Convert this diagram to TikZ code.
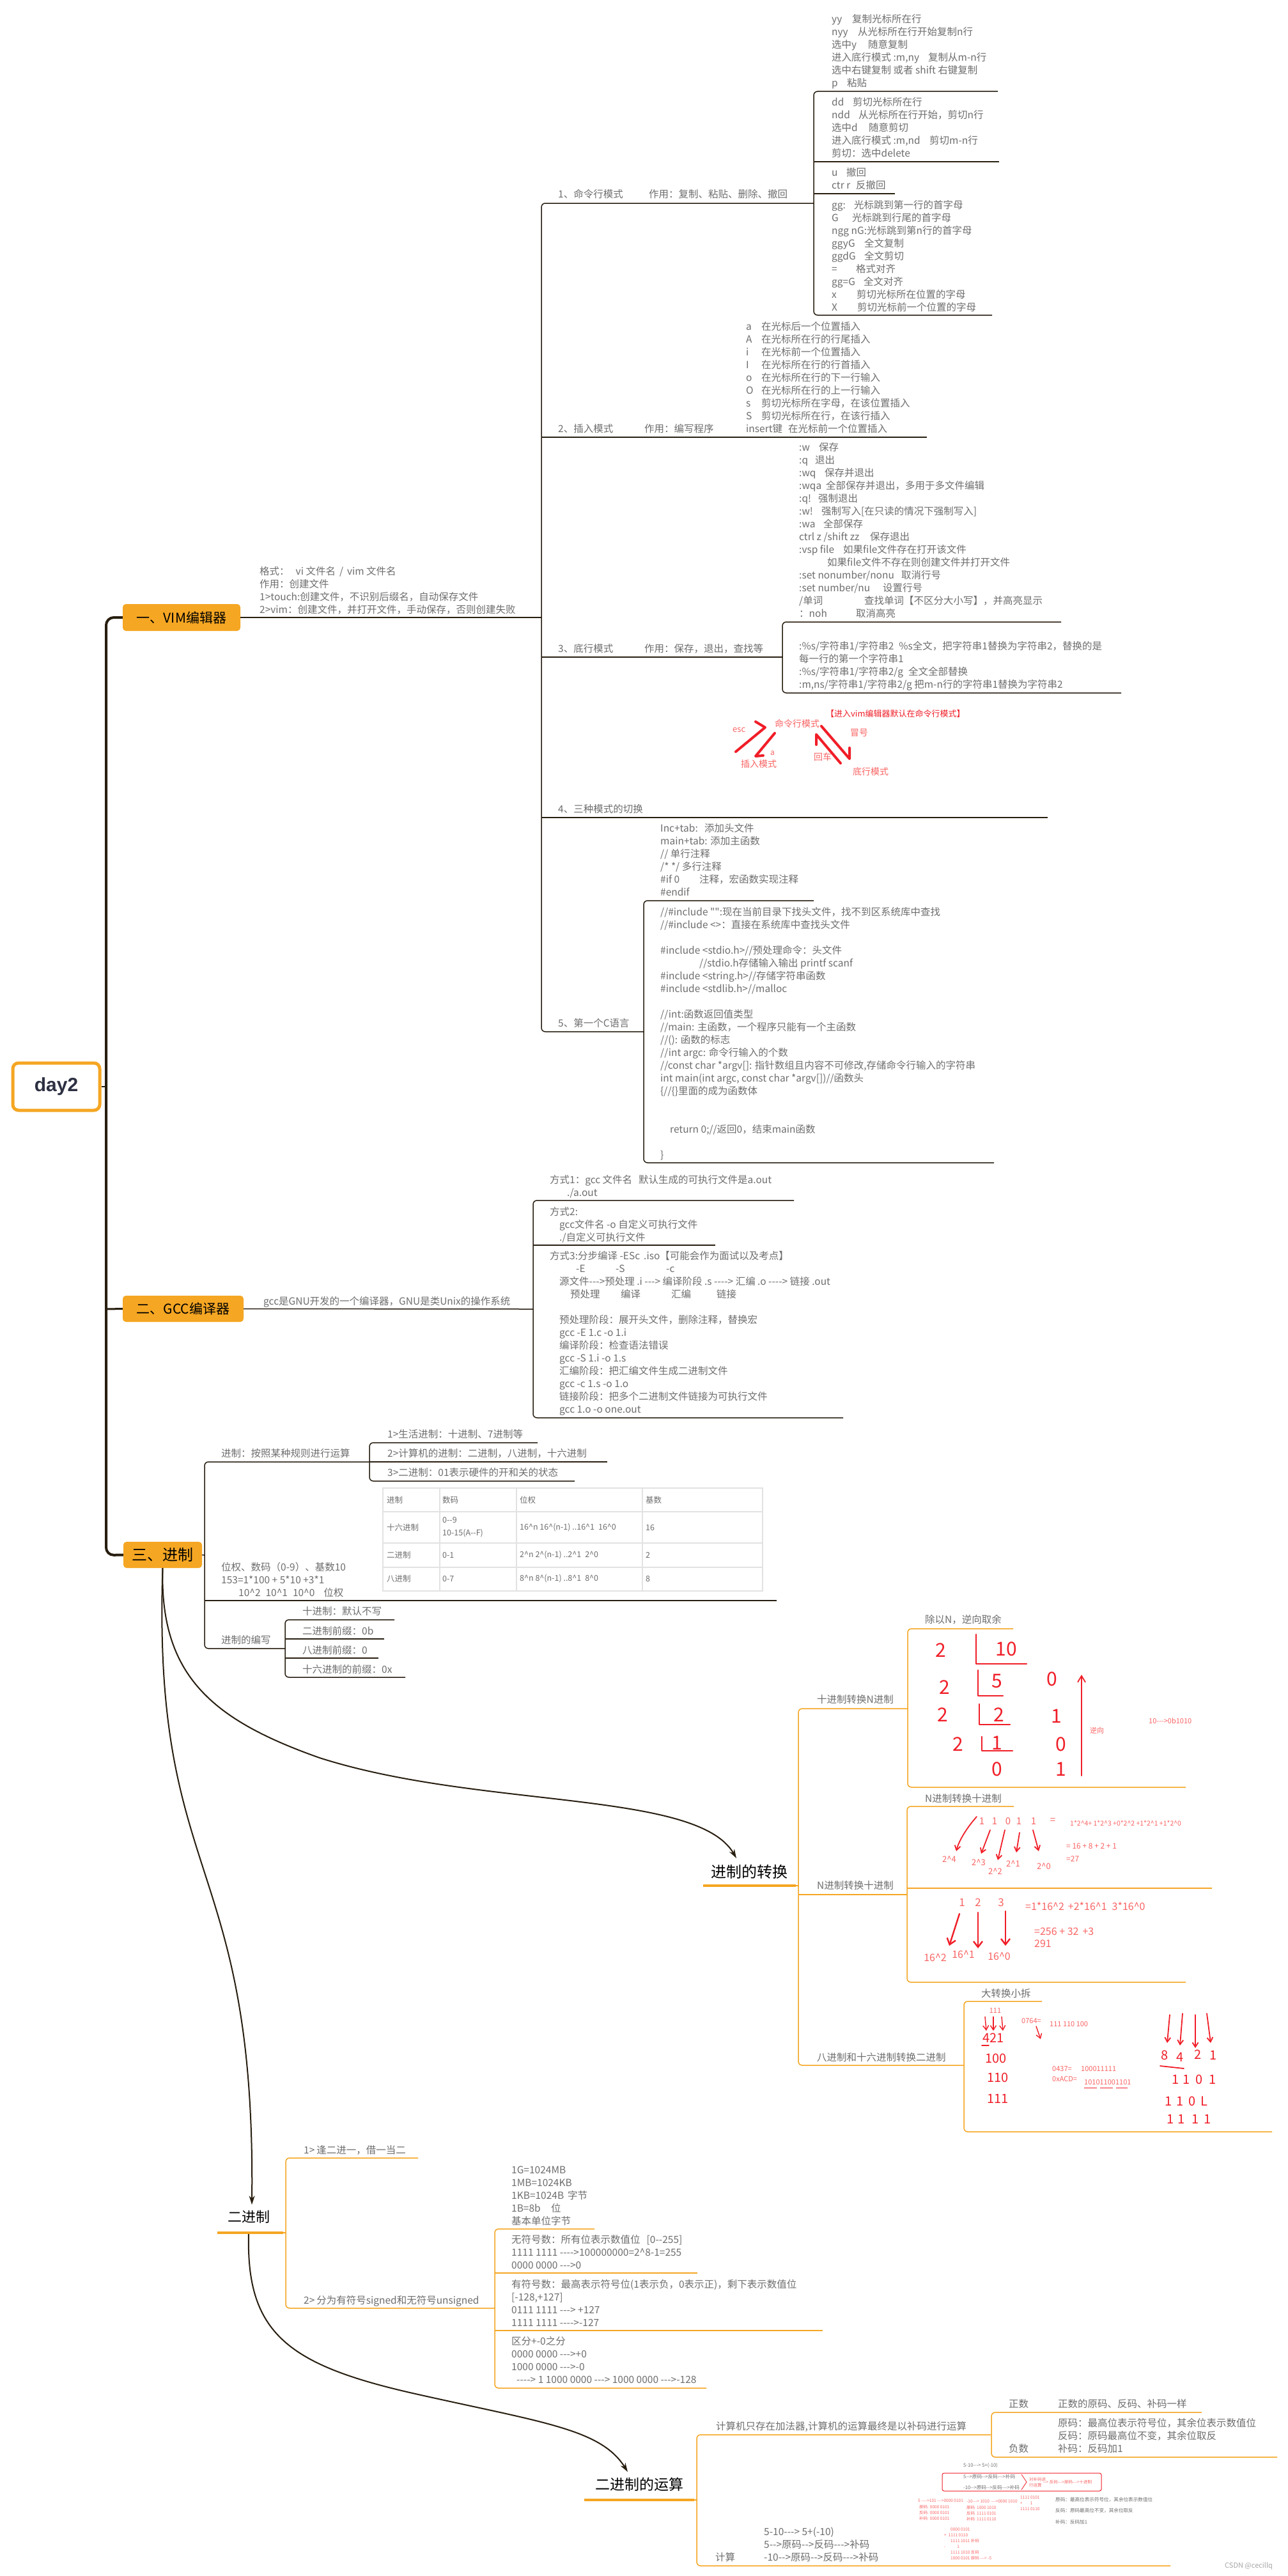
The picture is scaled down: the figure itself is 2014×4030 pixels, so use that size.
\documentclass[tikz,border=0pt]{standalone}
\usepackage{fontspec}
\newfontfamily\cjk{Noto Sans CJK SC}
\newfontfamily\lsans{Liberation Sans}
\usetikzlibrary{arrows.meta}
\definecolor{orng}{RGB}{245,166,35}
\definecolor{ln}{RGB}{40,30,16}
\definecolor{tx}{RGB}{110,110,110}
\definecolor{rd}{RGB}{240,30,40}
\definecolor{lrd}{RGB}{250,100,100}
\definecolor{grd}{RGB}{226,226,226}
\definecolor{navy}{RGB}{45,48,66}
\newcommand\crt{\textasciicircum}
\newcommand\cbx[2]{\makebox[#1pt][l]{#2}}
\begin{document}
\begin{tikzpicture}[x=1pt,y=-1pt,
 txt/.style={font=\cjk\fontsize{15.5}{20}\selectfont, text=tx, align=left, inner sep=0pt, anchor=base west},
 mainbox/.style={fill=orng, rounded corners=5pt, text=black, inner sep=0pt},
 topic/.style={font=\cjk\fontsize{23}{26}\selectfont, text=black, inner sep=0pt},
 brl/.style={draw=ln, line width=1.5pt, rounded corners=6pt},
 obl/.style={draw=orng, line width=1.5pt, rounded corners=6pt},
 oul/.style={draw=orng, line width=4pt},
 rel/.style={draw=ln, line width=2pt, -{Stealth[length=14pt,width=9pt]}},
 hd/.style={draw=rd, line width=2.6pt, line cap=round, line join=round},
 hdm/.style={draw=rd, line width=4pt, line cap=round, line join=round},
 hda/.style={draw=rd, line width=1.8pt, line cap=round, -{Straight Barb[length=7pt,width=9pt]}},
 hdt/.style={text=rd, font=\cjk\fontsize{30}{32}\selectfont, inner sep=0pt},
 rt/.style={text=lrd, font=\cjk\fontsize{14}{16}\selectfont, inner sep=0pt, anchor=west},
 rs/.style={text=lrd, font=\cjk\fontsize{15}{17}\selectfont, inner sep=0pt},
 tn/.style={text=tx, font=\cjk\fontsize{7.6}{10.5}\selectfont, inner sep=0pt, anchor=west, align=left},
 tnr/.style={text=lrd, font=\cjk\fontsize{6.5}{9}\selectfont, inner sep=0pt, anchor=west, align=left},
 tbl/.style={text=tx, font=\cjk\fontsize{12.5}{20}\selectfont, inner sep=0pt, anchor=west, align=left},
]
\fill[white] (0,0) rectangle (2014,4030);
\useasboundingbox (0,0) rectangle (2014,4030);

% ---------------- root and main topics
\node[draw=orng, line width=5pt, rounded corners=9pt, fill=white, minimum width=136pt, minimum height=74pt, font=\lsans\bfseries\fontsize{30}{34}\selectfont, text=navy, inner sep=0pt] (day) at (88,1700) {day2};
\node[mainbox, minimum width=184pt, minimum height=42pt, font=\cjk\fontsize{21}{24}\selectfont] (vim) at (284,966) {一、VIM编辑器};
\node[mainbox, minimum width=189pt, minimum height=41pt, font=\cjk\fontsize{21}{24}\selectfont] (gcc) at (286.5,2047.5) {二、GCC编译器};
\node[mainbox, minimum width=123pt, minimum height=41pt, font=\cjk\fontsize{24}{26}\selectfont] (jz) at (254.5,2432.5) {三、进制};
\draw[ln, line width=4pt, rounded corners=12pt] (vim.west) -- (166,966) -- (166,2433) -- (jz.west);
\draw[ln, line width=3pt] (166,2048) -- (gcc.west);
\draw[ln, line width=1.5pt] (day.east) -- (166,1700);

% ---------------- VIM
\node[txt] (vimnote) at (406,959) {格式：\hspace{10pt}vi 文件名\hspace{6pt}/\hspace{6pt}vim 文件名\\作用：创建文件\\1>touch:创建文件，不识别后缀名，自动保存文件\\2>vim：创建文件，并打开文件，手动保存，否则创建失败};
\draw[brl] (vim.east) -- (847,966);
\draw[brl] (1273,318) -- (847,318) -- (847,1614) -- (1007,1614);
\draw[brl] (847,684) -- (1450,684);
\draw[brl] (847,1028) -- (1224,1028);
\draw[brl] (847,1279) -- (1639,1279);

% 1 command mode
\node[txt] (m1) at (873,309) {1、命令行模式};
\node[txt] (m1b) at (1015,309) {作用：复制、粘贴、删除、撤回};
\draw[brl] (1561,143) -- (1273,143) -- (1273,493) -- (1552,493);
\draw[brl] (1273,253) -- (1563,253);
\draw[brl] (1273,303) -- (1400,303);
\node[txt] (cA) at (1301,136) {\cbx{32}{yy}复制光标所在行\\\cbx{41}{nyy}从光标所在行开始复制n行\\\cbx{57}{选中y}随意复制\\\cbx{151}{进入底行模式 :m,ny}复制从m-n行\\选中右键复制 或者 shift 右键复制\\\cbx{24}{p}粘贴};
\node[txt] (cB) at (1301,246) {\cbx{33}{dd}剪切光标所在行\\\cbx{42}{ndd}从光标所在行开始，剪切n行\\\cbx{58}{选中d}随意剪切\\\cbx{153}{进入底行模式 :m,nd}剪切m-n行\\剪切：选中delete};
\node[txt] (cC) at (1301,295) {\cbx{23}{u}撤回\\\cbx{38}{ctr r}反撤回};
\node[txt] (cD) at (1301,486) {\cbx{35}{gg:}光标跳到第一行的首字母\\\cbx{32}{G}光标跳到行尾的首字母\\ngg nG:光标跳到第n行的首字母\\\cbx{51}{ggyG}全文复制\\\cbx{51}{ggdG}全文剪切\\\cbx{38}{=}格式对齐\\\cbx{50}{gg=G}全文对齐\\\cbx{39}{x}剪切光标所在位置的字母\\\cbx{40}{X}剪切光标前一个位置的字母};

% 2 insert mode
\node[txt] (m2) at (873,676) {2、插入模式};
\node[txt] (m2b) at (1008,676) {作用：编写程序};
\node[txt] (ins) at (1167,676) {\cbx{24}{a}在光标后一个位置插入\\\cbx{24}{A}在光标所在行的行尾插入\\\cbx{24}{i}在光标前一个位置插入\\\cbx{24}{I}在光标所在行的行首插入\\\cbx{24}{o}在光标所在行的下一行输入\\\cbx{24}{O}在光标所在行的上一行输入\\\cbx{24}{s}剪切光标所在字母，在该位置插入\\\cbx{24}{S}剪切光标所在行，在该行插入\\\cbx{66}{insert键}在光标前一个位置插入};

% 3 bottom line mode
\node[txt] (m3) at (873,1020) {3、底行模式};
\node[txt] (m3b) at (1008,1020) {作用：保存，退出，查找等};
\draw[brl] (1660,973) -- (1224,973) -- (1224,1084) -- (1754,1084);
\node[txt] (bl1) at (1250,965) {\cbx{31}{:w}保存\\\cbx{25}{:q}退出\\\cbx{40}{:wq}保存并退出\\\cbx{42}{:wqa}全部保存并退出，多用于多文件编辑\\\cbx{30}{:q!}强制退出\\\cbx{35}{:w!}强制写入[在只读的情况下强制写入]\\\cbx{38}{:wa}全部保存\\\cbx{111}{ctrl z /shift zz}保存退出\\\cbx{69}{:vsp file}如果file文件存在打开该文件\\\hspace*{44pt}如果file文件不存在则创建文件并打开文件\\\cbx{160}{:set nonumber/nonu}取消行号\\\cbx{131}{:set number/nu}设置行号\\\cbx{102}{/单词}查找单词【不区分大小写】，并高亮显示\\\cbx{89}{：noh}取消高亮};
\node[txt] (bl2) at (1250,1076) {:\%s/字符串1/字符串2\hspace{8pt}\%s全文，把字符串1替换为字符串2，替换的是\\每一行的第一个字符串1\\:\%s/字符串1/字符串2/g\hspace{8pt}全文全部替换\\:m,ns/字符串1/字符串2/g 把m-n行的字符串1替换为字符串2};

% 4 switching
\node[txt] (m4) at (873,1271) {4、三种模式的切换};
\node[rt, text=rd, font=\cjk\fontsize{13}{15}\selectfont] (ms0) at (1292,1117) {【进入vim编辑器默认在命令行模式】};
\node[rt] (ms1) at (1212,1132) {命令行模式};
\node[rt, font=\cjk\fontsize{13}{15}\selectfont] (ms2) at (1146,1142) {esc};
\node[rt] (ms3) at (1330,1146) {冒号};
\node[rt, font=\cjk\fontsize{12}{14}\selectfont] (ms4) at (1205,1178) {a};
\node[rt] (ms5) at (1273,1184) {回车};
\node[rt] (ms6) at (1159,1195) {插入模式};
\node[rt] (ms7) at (1334,1207) {底行模式};
\draw[hdm] (1151,1176) -- (1197,1138) -- (1182,1129);
\draw[hdm] (1212,1147) -- (1182,1183) -- (1194,1182);
\draw[hdm] (1285,1136) -- (1329,1187) -- (1329,1170);
\draw[hdm] (1315,1194) -- (1277,1149) -- (1277,1165);

% 5 C
\node[txt] (m5) at (873,1606) {5、第一个C语言};
\draw[brl] (1273,1409) -- (1007,1409) -- (1007,1819) -- (1555,1819);
\node[txt] (c1) at (1033,1401) {\cbx{69}{Inc+tab:}添加头文件\\main+tab: 添加主函数\\// 单行注释\\/* */ 多行注释\\\cbx{61}{\#if 0}注释，宏函数实现注释\\\#endif};
\node[txt] (c2) at (1033,1812) {//\#include "":现在当前目录下找头文件，找不到区系统库中查找\\//\#include <>：直接在系统库中查找头文件\\[20pt]\#include <stdio.h>//预处理命令：头文件\\\hspace*{61pt}//stdio.h存储输入输出 printf scanf\\\#include <string.h>//存储字符串函数\\\#include <stdlib.h>//malloc\\[20pt]//int:函数返回值类型\\//main: 主函数，一个程序只能有一个主函数\\//(): 函数的标志\\//int argc: 命令行输入的个数\\//const char *argv[]: 指针数组且内容不可修改,存储命令行输入的字符串\\int main(int argc, const char *argv[])//函数头\\\{//\{\}里面的成为函数体\\[40pt]\hspace*{15pt}return 0;//返回0，结束main函数\\[20pt]\}};

% ---------------- GCC
\node[txt] (gnote) at (412,2041) {gcc是GNU开发的一个编译器，GNU是类Unix的操作系统};
\draw[brl] (gcc.east) -- (834,2048);
\draw[brl] (1242,1878) -- (834,1878) -- (834,2218) -- (1319,2218);
\draw[brl] (834,1948) -- (1119,1948);
\node[txt] (g1) at (860,1871) {方式1：gcc 文件名\hspace{10pt}默认生成的可执行文件是a.out\\\hspace*{27pt}./a.out};
\node[txt] (g2) at (860,1941) {方式2:\\\hspace*{15pt}gcc文件名 -o 自定义可执行文件\\\hspace*{15pt}./自定义可执行文件};
\node[txt] (g3) at (860,2210) {方式3:分步编译 -ESc\hspace{6pt}.iso【可能会作为面试以及考点】\\\hspace*{41pt}\cbx{62}{-E}\cbx{79}{-S}-c\\\hspace*{15pt}源文件--->预处理 .i ---> 编译阶段 .s ----> 汇编 .o ----> 链接 .out\\\hspace*{32pt}\cbx{79}{预处理}\cbx{79}{编译}\cbx{71}{汇编}链接\\[20pt]\hspace*{15pt}预处理阶段：展开头文件，删除注释，替换宏\\\hspace*{15pt}gcc -E 1.c -o 1.i\\\hspace*{15pt}编译阶段：检查语法错误\\\hspace*{15pt}gcc -S 1.i -o 1.s\\\hspace*{15pt}汇编阶段：把汇编文件生成二进制文件\\\hspace*{15pt}gcc -c 1.s -o 1.o\\\hspace*{15pt}链接阶段：把多个二进制文件链接为可执行文件\\\hspace*{15pt}gcc 1.o -o one.out};

% ---------------- 进制
\draw[brl] (jz.east) -- (320,2433);
\draw[brl] (578,2287) -- (320,2287) -- (320,2579) -- (446,2579);
\draw[brl] (320,2504) -- (1215,2504);
\node[txt] (j1) at (346,2279) {进制：按照某种规则进行运算};
\draw[brl] (841,2257) -- (578,2257) -- (578,2317) -- (899,2317);
\draw[brl] (578,2287) -- (950,2287);
\node[txt] (j11) at (606,2249) {1>生活进制：十进制、7进制等};
\node[txt] (j12) at (606,2279) {2>计算机的进制：二进制，八进制，十六进制};
\node[txt] (j13) at (606,2309) {3>二进制：01表示硬件的开和关的状态};
\node[txt] (j2) at (346,2497) {位权、数码（0-9）、基数10\\153=1*100 + 5*10 +3*1\\\hspace*{27pt}10\crt{}2\hspace{8pt}10\crt{}1\hspace{8pt}10\crt{}0\hspace{14pt}位权};
% table
\draw[grd, line width=1.5pt] (599,2328) rectangle (1193,2489);
\foreach \yy in {2365,2414,2452} \draw[grd, line width=1.5pt] (599,\yy) -- (1193,\yy);
\foreach \xx in {688,808,1005} \draw[grd, line width=1.5pt] (\xx,2328) -- (\xx,2489);
\node[tbl] (t11) at (605,2347) {进制};
\node[tbl] (t12) at (692,2347) {数码};
\node[tbl] (t13) at (813,2347) {位权};
\node[tbl] (t14) at (1010,2347) {基数};
\node[tbl] (t21) at (605,2390) {十六进制};
\node[tbl] (t22) at (692,2389) {0--9\\10-15(A--F)};
\node[tbl] (t23) at (813,2390) {16\crt{}n 16\crt{}(n-1) ..16\crt{}1\hspace{6pt}16\crt{}0};
\node[tbl] (t24) at (1010,2390) {16};
\node[tbl] (t31) at (605,2433) {二进制};
\node[tbl] (t32) at (692,2433) {0-1};
\node[tbl] (t33) at (813,2433) {2\crt{}n 2\crt{}(n-1) ..2\crt{}1\hspace{6pt}2\crt{}0};
\node[tbl] (t34) at (1010,2433) {2};
\node[tbl] (t41) at (605,2470) {八进制};
\node[tbl] (t42) at (692,2470) {0-7};
\node[tbl] (t43) at (813,2470) {8\crt{}n 8\crt{}(n-1) ..8\crt{}1\hspace{6pt}8\crt{}0};
\node[tbl] (t44) at (1010,2470) {8};
% writing
\node[txt] (j3) at (346,2571) {进制的编写};
\draw[brl] (617,2534) -- (446,2534) -- (446,2624) -- (634,2624);
\draw[brl] (446,2564) -- (601,2564);
\draw[brl] (446,2594) -- (592,2594);
\node[txt] (j31) at (473,2526) {十进制：默认不写};
\node[txt] (j32) at (473,2557) {二进制前缀：0b};
\node[txt] (j33) at (473,2587) {八进制前缀：0};
\node[txt] (j34) at (473,2617) {十六进制的前缀：0x};

% ---------------- relation curves
\coordinate (zhtip) at (1152,2907);
\coordinate (ejtip) at (394,3449);
\coordinate (ejb) at (389,3495);
\coordinate (ystip) at (982,3867);
\draw[rel] (jz.south) .. controls (250,2620) and (330,2690) .. (500,2750) .. controls (750,2830) and (1090,2800) .. (zhtip);
\draw[rel] (jz.south) .. controls (238,2950) and (400,2900) .. (ejtip);
\draw[rel] (ejb) .. controls (385,3650) and (450,3700) .. (650,3745) .. controls (850,3790) and (940,3800) .. (ystip);

% ---------------- 进制的转换
\node[topic, anchor=west, font=\cjk\fontsize{24}{28}\selectfont] (zh) at (1112,2928) {进制的转换};
\draw[oul] (1100,2950) -- (1245,2950);
\draw[obl] (1244,2950) -- (1249,2950);
\draw[obl] (1420,2673) -- (1249,2673) -- (1249,3231) -- (1508,3231);
\draw[obl] (1249,2964) -- (1419,2964);
\node[txt] (z1) at (1278,2664) {十进制转换N进制};
\node[txt] (z2) at (1278,2955) {N进制转换十进制};
\node[txt] (z3) at (1278,3224) {八进制和十六进制转换二进制};
\draw[obl] (1585,2548) -- (1420,2548) -- (1420,2796) -- (1855,2796);
\node[txt] (z11) at (1447,2539) {除以N，逆向取余};
\draw[obl] (1586,2826) -- (1419,2826) -- (1419,3101) -- (1855,3101);
\draw[obl] (1419,2954) -- (1896,2954);
\node[txt] (z21) at (1447,2819) {N进制转换十进制};
\draw[obl] (1630,3131) -- (1508,3131) -- (1508,3335) -- (1990,3335);
\node[txt] (z31) at (1535,3124) {大转换小拆};

% division drawing
\node[hdt] at (1472,2582) {2};
\node[hdt] at (1574,2580) {10};
\draw[hd] (1527,2557) -- (1527,2603) -- (1606,2603);
\node[hdt] at (1478,2640) {2};
\node[hdt] at (1560,2630) {5};
\draw[hd] (1530,2613) -- (1530,2653) -- (1569,2653);
\node[hdt] at (1646,2627) {0};
\node[hdt] at (1475,2683) {2};
\node[hdt] at (1563,2683) {2};
\draw[hd] (1532,2666) -- (1532,2698) -- (1580,2698);
\node[hdt] at (1653,2685) {1};
\node[hdt] at (1499,2729) {2};
\node[hdt] at (1560,2727) {1};
\draw[hd] (1536,2717) -- (1536,2739) -- (1584,2739);
\node[hdt] at (1660,2729) {0};
\node[hdt] at (1560,2768) {0};
\node[hdt] at (1660,2768) {1};
\draw[hda, -{Straight Barb[length=10pt,width=12pt]}] (1692,2778) -- (1692,2620);
\node[rt, font=\cjk\fontsize{11}{13}\selectfont] at (1705,2707) {逆向};
\node[rt, font=\cjk\fontsize{11}{13}\selectfont] at (1797,2692) {10--->0b1010};

% binary -> decimal
\node[rs] at (1536,2849) {1};
\node[rs] at (1556,2849) {1};
\node[rs] at (1577,2849) {0};
\node[rs] at (1594,2849) {1};
\node[rs] at (1617,2849) {1};
\node[rs] at (1647,2849) {=};
\node[rt, font=\cjk\fontsize{10.5}{12}\selectfont] at (1674,2852) {1*2\crt{}4+ 1*2\crt{}3 +0*2\crt{}2 +1*2\crt{}1 +1*2\crt{}0};
\node[rt, font=\cjk\fontsize{12}{14}\selectfont] at (1668,2888) {= 16 + 8 + 2 + 1};
\node[rt, font=\cjk\fontsize{12}{14}\selectfont] at (1668,2908) {=27};
\node[rs, font=\cjk\fontsize{13}{15}\selectfont] at (1485,2909) {2\crt{}4};
\node[rs, font=\cjk\fontsize{13}{15}\selectfont] at (1531,2914) {2\crt{}3};
\node[rs, font=\cjk\fontsize{13}{15}\selectfont] at (1557,2928) {2\crt{}2};
\node[rs, font=\cjk\fontsize{13}{15}\selectfont] at (1585,2916) {2\crt{}1};
\node[rs, font=\cjk\fontsize{13}{15}\selectfont] at (1633,2920) {2\crt{}0};
\draw[hda] (1528,2842) .. controls (1512,2860) and (1500,2880) .. (1496,2896);
\draw[hda] (1549,2863) -- (1535,2900);
\draw[hda] (1572,2863) -- (1561,2910);
\draw[hda] (1595,2867) -- (1590,2898);
\draw[hda] (1616,2863) -- (1625,2896);

% hex -> decimal
\node[rs, font=\cjk\fontsize{17}{19}\selectfont] at (1505,2976) {1};
\node[rs, font=\cjk\fontsize{17}{19}\selectfont] at (1530,2976) {2};
\node[rs, font=\cjk\fontsize{17}{19}\selectfont] at (1566,2976) {3};
\node[rt, font=\cjk\fontsize{16}{18}\selectfont] at (1604,2982) {=1*16\crt{}2\hspace{6pt}+2*16\crt{}1\hspace{8pt}3*16\crt{}0};
\node[rt, font=\cjk\fontsize{16}{18}\selectfont] at (1618,3022) {=256 + 32\hspace{6pt}+3};
\node[rt, font=\cjk\fontsize{16}{18}\selectfont] at (1618,3041) {291};
\node[rs, font=\cjk\fontsize{16}{18}\selectfont] at (1463,3063) {16\crt{}2};
\node[rs, font=\cjk\fontsize{16}{18}\selectfont] at (1507,3058) {16\crt{}1};
\node[rs, font=\cjk\fontsize{16}{18}\selectfont] at (1563,3061) {16\crt{}0};
\draw[hda, line width=2.4pt, -{Straight Barb[length=9pt,width=14pt]}] (1501,2994) -- (1485,3044);
\draw[hda, line width=2.4pt, -{Straight Barb[length=9pt,width=14pt]}] (1530,2992) -- (1530,3048);
\draw[hda, line width=2.4pt, -{Straight Barb[length=9pt,width=14pt]}] (1573,2990) -- (1573,3044);

% octal / hex -> binary
\node[rs, font=\cjk\fontsize{11}{13}\selectfont] at (1557,3146) {111};
\draw[hda, line width=1.4pt] (1541,3155) -- (1543,3177);
\draw[hda, line width=1.4pt] (1554,3155) -- (1554,3177);
\draw[hda, line width=1.4pt] (1567,3155) -- (1569,3177);
\node[hdt, font=\cjk\fontsize{20}{22}\selectfont] at (1554,3188) {421};
\draw[hd, line width=1.6pt] (1536,3200) -- (1547,3200);
\node[hdt, font=\cjk\fontsize{20}{22}\selectfont] at (1558,3220) {100};
\node[hdt, font=\cjk\fontsize{20}{22}\selectfont] at (1561,3250) {110};
\node[hdt, font=\cjk\fontsize{20}{22}\selectfont] at (1561,3283) {111};
\node[rt, font=\cjk\fontsize{11}{13}\selectfont] at (1598,3162) {0764=};
\draw[hda, line width=1.4pt] (1621,3170) -- (1628,3190);
\node[rt, font=\cjk\fontsize{11}{13}\selectfont] at (1642,3167) {111 110 100};
\node[rt, font=\cjk\fontsize{11}{13}\selectfont] at (1646,3237) {0437=};
\node[rt, font=\cjk\fontsize{11}{13}\selectfont] at (1691,3237) {100011111};
\node[rt, font=\cjk\fontsize{11}{13}\selectfont] at (1646,3252) {0xACD=};
\node[rt, font=\cjk\fontsize{11}{13}\selectfont] at (1696,3258) {101011001101};
\draw[rd, line width=1pt] (1696,3266) -- (1716,3266) (1721,3266) -- (1741,3266) (1746,3266) -- (1764,3266);
\draw[hda] (1830,3152) -- (1826,3196);
\draw[hda] (1850,3150) -- (1846,3200);
\draw[hda] (1870,3152) -- (1870,3204);
\draw[hda] (1888,3150) -- (1894,3196);
\node[hdt, font=\cjk\fontsize{20}{22}\selectfont] at (1822,3215) {8};
\node[hdt, font=\cjk\fontsize{20}{22}\selectfont] at (1846,3218) {4};
\node[hdt, font=\cjk\fontsize{20}{22}\selectfont] at (1874,3214) {2};
\node[hdt, font=\cjk\fontsize{20}{22}\selectfont] at (1898,3215) {1};
\draw[hd, line width=1.8pt] (1815,3232) -- (1852,3236);
\node[hdt, font=\cjk\fontsize{20}{22}\selectfont] at (1868,3253) {1\hspace{6pt}1\hspace{8pt}0\hspace{10pt}1};
\node[hdt, font=\cjk\fontsize{20}{22}\selectfont] at (1856,3287) {1\hspace{6pt}1\hspace{8pt}0\hspace{8pt}L};
\node[hdt, font=\cjk\fontsize{20}{22}\selectfont] at (1860,3315) {1\hspace{6pt}1\hspace{10pt}1\hspace{8pt}1};

% ---------------- 二进制
\node[topic, font=\cjk\fontsize{22}{26}\selectfont] (ej) at (389,3468) {二进制};
\draw[oul] (340,3493) -- (443,3493);
\draw[obl] (442,3493) -- (447,3493);
\draw[obl] (654,3376) -- (447,3376) -- (447,3611) -- (774,3611);
\node[txt] (e1) at (475,3369) {1>\hspace{3pt}逢二进一，借一当二};
\node[txt] (e2) at (475,3604) {2>\hspace{3pt}分为有符号signed和无符号unsigned};
\draw[obl] (930,3487) -- (774,3487) -- (774,3736) -- (1105,3736);
\draw[obl] (774,3556) -- (1091,3556);
\draw[obl] (774,3646) -- (1287,3646);
\node[txt] (e21) at (800,3480) {1G=1024MB\\1MB=1024KB\\1KB=1024B\hspace{6pt}字节\\\cbx{62}{1B=8b}位\\基本单位字节};
\node[txt] (e22) at (800,3549) {无符号数：所有位表示数值位\hspace{10pt}[0--255]\\1111 1111 ---->100000000=2\crt{}8-1=255\\0000 0000 --->0};
\node[txt] (e23) at (800,3639) {有符号数：最高表示符号位(1表示负，0表示正)，剩下表示数值位\\{[}-128,+127]\\0111 1111 ---> +127\\1111 1111 ---->-127};
\node[txt] (e24) at (800,3728) {区分+-0之分\\0000 0000 --->+0\\1000 0000 --->-0\\\hspace*{8pt}----> 1 1000 0000 ---> 1000 0000 --->-128};

% ---------------- 二进制的运算
\node[topic, font=\cjk\fontsize{23}{26}\selectfont] (ys) at (1000,3887) {二进制的运算};
\draw[oul] (914,3911) -- (1086,3911);
\draw[obl] (1085,3911) -- (1090,3911);
\draw[obl] (1550,3809) -- (1090,3809) -- (1090,4014) -- (1831,4014);
\node[txt] (y1) at (1120,3801) {计算机只存在加法器,计算机的运算最终是以补码进行运算};
\draw[obl] (1880,3774) -- (1551,3774) -- (1551,3844) -- (1998,3844);
\node[txt] (y11a) at (1578,3766) {正数};
\node[txt] (y11b) at (1655,3766) {正数的原码、反码、补码一样};
\node[txt] (y12a) at (1578,3836) {负数};
\node[txt] (y12b) at (1655,3836) {原码：最高位表示符号位，其余位表示数值位\\反码：原码最高位不变，其余位取反\\补码：反码加1};
\node[txt] (y2a) at (1119,4006) {计算};
\node[txt] (y2b) at (1195,4006) {5-10---> 5+(-10)\\5-->原码-->反码--->补码\\-10-->原码-->反码--->补码};
% small screenshot
\node[tn] (s1) at (1507,3857) {5-10---> 5+(-10)};
\draw[rd, line width=1pt, rounded corners=3pt] (1474,3869) rectangle (1723,3897);
\node[tn] (s2) at (1507,3875) {5-->原码-->反码--->补码};
\node[tn] (s3) at (1507,3892) {-10-->原码-->反码--->补码};
\draw[rd, line width=0.8pt] (1598,3871) -- (1606,3883) -- (1598,3895);
\node[tnr] (s4) at (1610,3883) {对补码进\\行运算};
\node[tnr] (s5) at (1632,3883) {--> 反码--->原码--->十进制};
\node[tnr] (s6) at (1436,3912) {5 ---->101 --->0000 0101};
\node[tnr] (s7) at (1438,3931) {原码: 0000 0101\\反码: 0000 0101\\补码: 0000 0101};
\node[tnr] (s8) at (1512,3913) {-10---> 1010\hspace{3pt}--->0000 1010};
\node[tnr] (s9) at (1512,3932) {原码\hspace{3pt}1000 1010\\反码\hspace{3pt}1111 0101\\补码\hspace{3pt}1111 0110};
\node[tnr] (s10) at (1596,3916) {1111 0101\\+\hspace{12pt}1\\1111 0110};
\node[tn] (s11) at (1651,3911) {原码：最高位表示符号位，其余位表示数值位};
\node[tn] (s12) at (1651,3928) {反码：原码最高位不变，其余位取反};
\node[tn] (s13) at (1651,3946) {补码：反码加1};
\node[tnr] (s14) at (1477,3980) {\hspace*{10pt}0000 0101\\+\hspace{3pt}1111 0110\\\hspace*{10pt}1111 1011 补码\\-\hspace{18pt}1\\\hspace*{10pt}1111 1010 反码\\\hspace*{10pt}1000 0101 原码 ---> -5};
\node[tn, text=black!35, font=\cjk\fontsize{11}{13}\selectfont] (wm) at (1916,4014) {CSDN @cecillq};
\end{tikzpicture}
\end{document}
